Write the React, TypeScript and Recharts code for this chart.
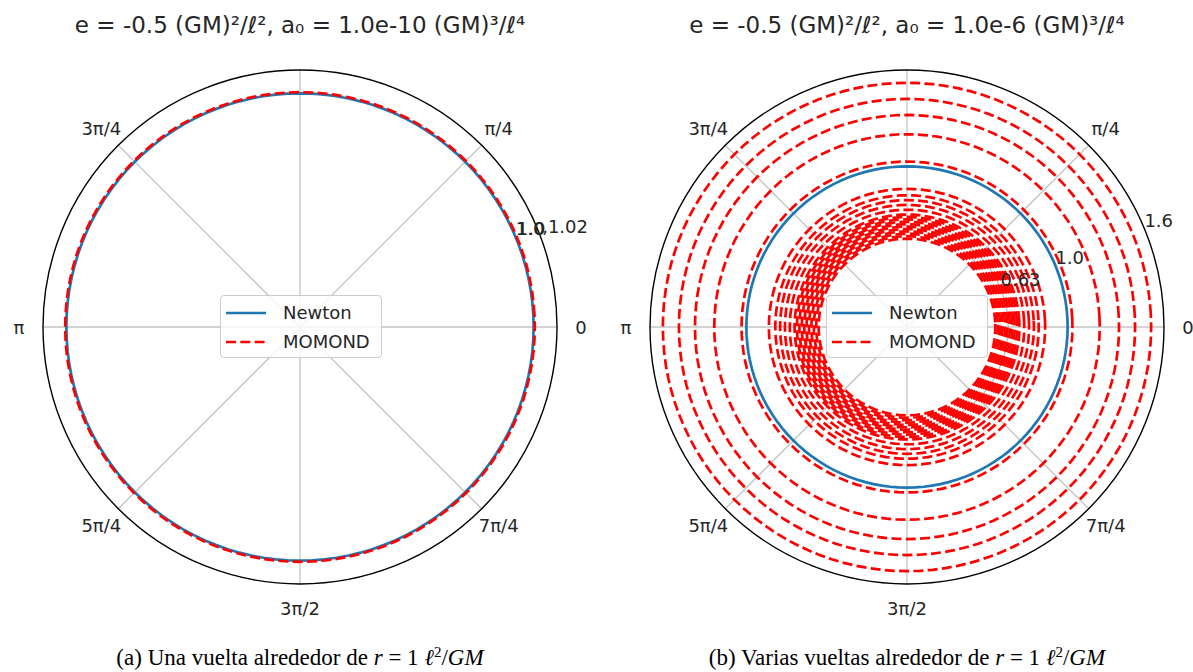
import React from 'react';
import {
  RadarChart,
  Radar,
  PolarGrid,
  PolarAngleAxis,
  PolarRadiusAxis,
  Legend,
} from 'recharts';

// angle categories (degrees, counter-clockwise from 0)
const ANGLES = Array.from({ length: 120 }, (_, i) => i * 3);
const SPOKES = [0, 45, 90, 135, 180, 225, 270, 315];
const ANGLE_LABELS: Record<number, string> = {
  0: '0',
  45: 'π/4',
  135: '3π/4',
  180: 'π',
  225: '5π/4',
  270: '3π/2',
  315: '7π/4',
};

// left panel: a0 = 1.0e-10
const LEFT_RMAX = 1.1;
const LEFT_NEWTON = 1.0;
const LEFT_MOMOND = 1.005;
const LEFT_RTICKS = [1.0, 1.02];

// right panel: a0 = 1.0e-6, radius of each turn of the spiral
const RIGHT_RMAX = 1.6;
const RIGHT_NEWTON = 1.0;
const RIGHT_TURNS = [
  0.55, 0.565, 0.58, 0.595, 0.61, 0.625, 0.64, 0.655, 0.67, 0.685, 0.7,
  0.73, 0.76, 0.79, 0.82, 0.86, 1.03, 1.2, 1.32, 1.42, 1.52,
];
const RIGHT_RTICKS = [0.63, 1.0, 1.6];

const TITLE_LEFT = 'e = -0.5 (GM)²/ℓ², a₀ = 1.0e-10 (GM)³/ℓ⁴';
const TITLE_RIGHT = 'e = -0.5 (GM)²/ℓ², a₀ = 1.0e-6 (GM)³/ℓ⁴';

const CX = 300;
const CY = 327;
const OUTER = 257;
const BLUE = '#1f77b4';
const RED = '#ff0000';
const FONT = '"DejaVu Sans", sans-serif';

const leftData = ANGLES.map((a) => ({ angle: a, newton: LEFT_NEWTON, momond: LEFT_MOMOND }));
const rightData = ANGLES.map((a) => {
  const row: Record<string, number> = { angle: a, newton: RIGHT_NEWTON };
  RIGHT_TURNS.forEach((r, i) => {
    row[`t${i}`] = r;
  });
  return row;
});

function AngleTick(props: any) {
  const v = props.payload?.value;
  const label = ANGLE_LABELS[v];
  if (label == null) return null;
  const rad = (v * Math.PI) / 180;
  const x = CX + 281 * Math.cos(rad);
  const y = CY - 281 * Math.sin(rad);
  return (
    <text x={x} y={y} textAnchor="middle" dominantBaseline="central" fontFamily={FONT} fontSize={18} fill="#262626">
      {label}
    </text>
  );
}

function LeftRadiusTick(props: any) {
  const { x, y, payload } = props;
  if (payload.value === 1.02) {
    return (
      <text x={x + 22} y={y - 3} fontFamily={FONT} fontSize={18} fill="#262626">
        ,1.02
      </text>
    );
  }
  return (
    <g>
      <text x={x} y={y - 3} fontFamily={FONT} fontSize={18} fill="#262626">1.0</text>
      <text x={x + 1} y={y - 3} fontFamily={FONT} fontSize={18} fill="#262626">1.0</text>
    </g>
  );
}

function RightRadiusTick(props: any) {
  const { x, y, payload } = props;
  const v = Number(payload.value);
  return (
    <text x={x} y={y - 2} fontFamily={FONT} fontSize={18} fill="#262626">
      {v === 1 ? '1.0' : String(v)}
    </text>
  );
}

function LegendBox() {
  const row = (dash: string | undefined, color: string, label: string) => (
    <div style={{ display: 'flex', alignItems: 'center', height: 29 }}>
      <svg width={46} height={10} style={{ marginLeft: 5 }}>
        <line x1={0} y1={5} x2={40} y2={5} stroke={color} strokeWidth={2.7} strokeDasharray={dash} />
      </svg>
      <span style={{ marginLeft: 11 }}>{label}</span>
    </div>
  );
  return (
    <div
      style={{
        boxSizing: 'border-box',
        width: 162,
        height: 63,
        padding: '2px 0',
        border: '1px solid #cccccc',
        borderRadius: 4,
        background: 'rgba(255,255,255,0.8)',
        fontFamily: FONT,
        fontSize: 18,
        color: '#262626',
        lineHeight: 1,
      }}
    >
      {row(undefined, BLUE, 'Newton')}
      {row('10 4.3', RED, 'MOMOND')}
    </div>
  );
}

function Title({ text, left }: { text: string; left: number }) {
  return (
    <div
      style={{
        position: 'absolute',
        left: left - 300,
        top: 11,
        width: 600,
        textAlign: 'center',
        fontFamily: FONT,
        fontSize: 23,
        lineHeight: '28px',
        color: '#262626',
      }}
    >
      {text}
    </div>
  );
}

function Caption({ tag, words, left }: { tag: string; words: string; left: number }) {
  return (
    <div
      style={{
        position: 'absolute',
        left: left - 300,
        top: 645,
        width: 600,
        textAlign: 'center',
        fontFamily: '"Liberation Serif", serif',
        fontSize: 23,
        lineHeight: '26px',
        color: '#000',
        whiteSpace: 'nowrap',
      }}
    >
      {tag} {words} <i>r</i> = 1 <i>ℓ</i>
      <sup style={{ fontSize: 15, lineHeight: 0, verticalAlign: '8px' }}>2</sup>/<i>GM</i>
    </div>
  );
}

export default function App() {
  return (
    <div style={{ position: 'absolute', left: 0, top: 0, width: 1193, height: 672, overflow: 'hidden', background: '#fff' }}>
      <Title text={TITLE_LEFT} left={300} />
      <Title text={TITLE_RIGHT} left={907} />

      <div style={{ position: 'absolute', left: 0, top: 0 }}>
        <RadarChart width={600} height={640} data={leftData} cx={CX} cy={CY} outerRadius={OUTER} startAngle={0} endAngle={360}>
          <PolarGrid
            gridType="circle"
            polarAngles={SPOKES}
            polarRadius={[(LEFT_NEWTON / LEFT_RMAX) * OUTER]}
            stroke="#c4c4c4"
            strokeWidth={1.3}
          />
          <PolarAngleAxis dataKey="angle" tick={<AngleTick />} tickLine={false} axisLine={false} />
          <PolarRadiusAxis
            angle={22.5}
            domain={[0, LEFT_RMAX]}
            allowDataOverflow
            ticks={LEFT_RTICKS as any}
            tick={<LeftRadiusTick />}
            axisLine={false}
            tickLine={false}
          />
          <Radar dataKey="newton" name="Newton" stroke={BLUE} strokeWidth={2.7} fill="none" fillOpacity={0} dot={false} isAnimationActive={false} />
          <Radar dataKey="momond" name="MOMOND" stroke={RED} strokeWidth={2.7} strokeDasharray="10 4.3" fill="none" fillOpacity={0} dot={false} isAnimationActive={false} />
          <PolarGrid gridType="circle" radialLines={false} polarAngles={[]} polarRadius={[OUTER]} stroke="#000" strokeWidth={1.4} />
          <Legend content={<LegendBox />} wrapperStyle={{ position: 'absolute', left: 220, top: 295, width: 162, height: 63 }} />
        </RadarChart>
      </div>

      <div style={{ position: 'absolute', left: 607, top: 0 }}>
        <RadarChart width={586} height={640} data={rightData} cx={CX} cy={CY} outerRadius={OUTER} startAngle={0} endAngle={360}>
          <PolarGrid
            gridType="circle"
            polarAngles={SPOKES}
            polarRadius={[(0.63 / RIGHT_RMAX) * OUTER, (RIGHT_NEWTON / RIGHT_RMAX) * OUTER]}
            stroke="#c4c4c4"
            strokeWidth={1.3}
          />
          <PolarAngleAxis dataKey="angle" tick={<AngleTick />} tickLine={false} axisLine={false} />
          <PolarRadiusAxis
            angle={22.5}
            type="number"
            domain={[0, RIGHT_RMAX]}
            allowDataOverflow
            allowDecimals
            tickCount={9}
            ticks={RIGHT_RTICKS as any}
            tick={<RightRadiusTick />}
            axisLine={false}
            tickLine={false}
          />
          <Radar dataKey="newton" name="Newton" stroke={BLUE} strokeWidth={2.7} fill="none" fillOpacity={0} dot={false} isAnimationActive={false} />
          {RIGHT_TURNS.map((_, i) => (
            <Radar
              key={i}
              dataKey={`t${i}`}
              name="MOMOND"
              stroke={RED}
              strokeWidth={2.7}
              strokeDasharray="10 4.3"
              fill="none"
              fillOpacity={0}
              dot={false}
              legendType="none"
              isAnimationActive={false}
            />
          ))}
          <PolarGrid gridType="circle" radialLines={false} polarAngles={[]} polarRadius={[OUTER]} stroke="#000" strokeWidth={1.4} />
          <Legend content={<LegendBox />} wrapperStyle={{ position: 'absolute', left: 219, top: 295, width: 162, height: 63 }} />
        </RadarChart>
      </div>

      <Caption tag="(a)" words="Una vuelta alrededor de" left={300} />
      <Caption tag="(b)" words="Varias vueltas alrededor de" left={907} />
    </div>
  );
}
